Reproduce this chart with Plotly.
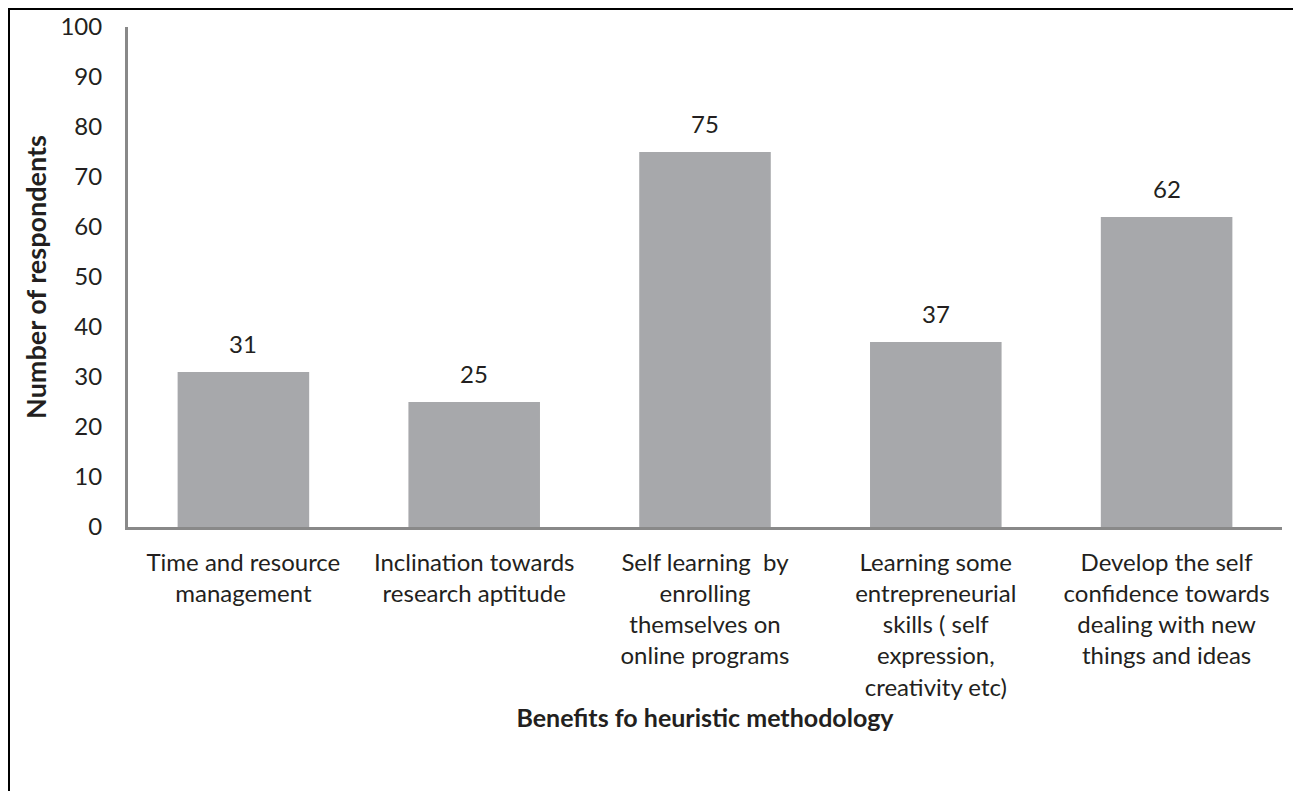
import plotly.graph_objects as go

categories = [
    "Time and resource<br>management",
    "Inclination towards<br>research aptitude",
    "Self learning  by<br>enrolling<br>themselves on<br>online programs",
    "Learning some<br>entrepreneurial<br>skills ( self<br>expression,<br>creativity etc)",
    "Develop the self<br>confidence towards<br>dealing with new<br>things and ideas",
]
values = [31, 25, 75, 37, 62]
y_ticks = [0, 10, 20, 30, 40, 50, 60, 70, 80, 90, 100]

FONT = "Lato"
TXT = "#231f20"

W, H = 1293, 783
L, R, T, B = 120, 19, 19, 264
PW, PH = W - L - R, H - T - B

fig = go.Figure()
fig.add_trace(go.Bar(
    x=categories, y=values,
    marker=dict(color="#a7a8ab", line=dict(width=0)),
    width=0.57,
    hoverinfo="skip",
))

for c, v in zip(categories, values):
    fig.add_annotation(x=c, y=v, text=str(v), showarrow=False,
                       yanchor="bottom", yshift=12,
                       font=dict(family=FONT, size=24, color=TXT))

fig.update_layout(
    width=W, height=H,
    margin=dict(l=L, r=R, t=T, b=B, autoexpand=False),
    paper_bgcolor="white", plot_bgcolor="white",
    showlegend=False,
    font=dict(family=FONT, size=24, color=TXT),
    xaxis=dict(
        automargin=False,
        showline=True, linecolor="#898989", linewidth=3,
        ticks="", showgrid=False, tickangle=0,
        tickfont=dict(family=FONT, size=24, color=TXT),
        ticklabelstandoff=12,
        title=dict(text="<b>Benefits fo heuristic methodology</b>",
                   font=dict(family=FONT, size=25, color=TXT), standoff=10),
    ),
    yaxis=dict(
        automargin=False,
        range=[0, 100], tickvals=y_ticks,
        showline=True, linecolor="#898989", linewidth=3,
        ticks="", showgrid=False, zeroline=False,
        tickfont=dict(family=FONT, size=24, color=TXT),
        ticklabelstandoff=18,
        title=dict(text="<b>Number of respondents</b>",
                   font=dict(family=FONT, size=27, color=TXT), standoff=6),
    ),
    shapes=[dict(type="rect", xref="paper", yref="paper",
                 x0=(1 - L) / PW, x1=(W - 2 - L) / PW,
                 y0=-1.0, y1=(PH + T - 1) / PH,
                 line=dict(color="black", width=2), fillcolor="rgba(0,0,0,0)",
                 layer="below")],
)

fig.write_html("out.html")
